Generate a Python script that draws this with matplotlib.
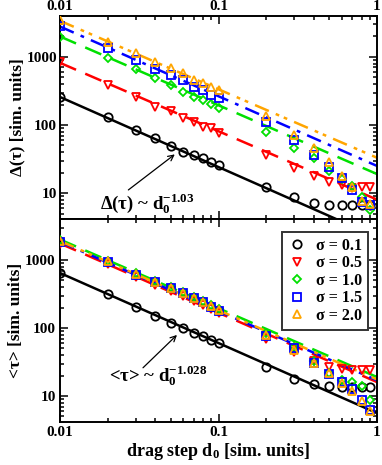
import matplotlib
matplotlib.use("Agg")
import matplotlib.pyplot as plt
from matplotlib.ticker import FixedLocator, FixedFormatter, LogLocator, NullFormatter

plt.rcParams["font.family"] = ["Liberation Serif", "DejaVu Serif"]
plt.rcParams["font.weight"] = "bold"
plt.rcParams["axes.labelweight"] = "bold"
plt.rcParams["mathtext.fontset"] = "custom"
plt.rcParams["mathtext.rm"] = "Liberation Serif:bold"
plt.rcParams["mathtext.it"] = "Liberation Serif:bold"
plt.rcParams["mathtext.bf"] = "Liberation Serif:bold"

# drag steps
d0 = [0.01, 0.02, 0.03, 0.04, 0.05, 0.06, 0.07, 0.08, 0.09, 0.1,
      0.2, 0.3, 0.4, 0.5, 0.6, 0.7, 0.8, 0.9]

sigmas = ["0.1", "0.5", "1.0", "1.5", "2.0"]

# upper panel: Delta(tau)
delta_s01 = [258, 131, 84, 64, 49, 40, 36, 33, 29, 26, 12.2, 8.7, 7.1, 6.6, 6.6, 6.6, 6.6, 6.6]
delta_s05 = [830, 388, 258, 184, 158, 127, 111, 94, 90, 76, 36, 23, 17.8, 14.5, 13, 11.8, 12.2, 12.2]
delta_s10 = [1960, 967, 666, 490, 388, 305, 258, 233, 203, 178, 79, 46, 33, 21, 16, 12.6, 8.8, 5.6]
delta_s15 = [2850, 1360, 903, 666, 544, 458, 362, 327, 276, 250, 110, 60, 36, 24, 16.6, 11, 7.4, 6.6]
delta_s20 = [3500, 1660, 1140, 845, 690, 580, 458, 414, 362, 327, 136, 71, 46, 29, 18, 12.2, 7.6, 7.0]

# lower panel: <tau>
tau_s01 = [644, 316, 204, 150, 120, 101, 84, 76, 67, 60, 27, 18, 15, 14.2, 13.5, 13.5, 13.5, 13.5]
tau_s05 = [1700, 860, 560, 430, 350, 295, 250, 218, 188, 168, 70, 45, 33, 27, 25, 24, 24, 24]
tau_s10 = [1960, 960, 640, 490, 400, 340, 285, 250, 215, 192, 84, 53, 33, 22, 17, 16, 14, 8.7]
tau_s15 = [1840, 935, 600, 470, 385, 325, 272, 238, 202, 180, 76, 50, 31, 21, 16, 12.5, 8.8, 6.2]
tau_s20 = [1900, 950, 620, 480, 390, 330, 280, 245, 208, 185, 78, 48, 31, 21.5, 15.5, 12, 8.5, 6.0]

# power-law fit lines (end points at d0 = 0.01 and 1)
fit_x = [0.01, 1.0]
fit_delta = {"0.1": [258, 2.25], "0.5": [820, 8.0], "1.0": [2000, 19],
             "1.5": [2800, 25], "2.0": [3400, 33]}
fit_tau = {"0.1": [644, 5.6], "0.5": [1750, 16], "1.0": [2000, 19],
           "1.5": [1850, 17], "2.0": [1900, 17.5]}

colors = ["black", "#ff0000", "#00e000", "#0000ff", "#ffa500"]
markers = ["o", "v", "D", "s", "^"]
msizes = [6, 6, 4.3, 5.5, 6]
dashes = [(None, None), (7, 4), (7, 4), (6, 3, 1.5, 3), (6, 3, 1.5, 2, 1.5, 3)]

fig = plt.figure(figsize=(3.82, 4.65), dpi=100)
ax1 = fig.add_axes([0.157, 0.529, 0.830, 0.4366])
ax2 = fig.add_axes([0.157, 0.0925, 0.830, 0.4365])


def draw(ax, series, fits):
    for i, s in enumerate(sigmas):
        ax.plot(d0, series[i], linestyle="none", marker=markers[i], ms=msizes[i],
                mfc="none", mec=colors[i], mew=1.3, label="\u03c3 = " + s, zorder=3)
        ln, = ax.plot(fit_x, fits[s], color=colors[i], lw=1.8, zorder=2)
        if dashes[i][0] is not None:
            ln.set_dashes(dashes[i])
    ax.set_xscale("log")
    ax.set_yscale("log")
    ax.set_xlim(0.01, 1)
    ax.set_ylim(4.15, 4000)
    ax.xaxis.set_major_locator(FixedLocator([0.01, 0.1, 1]))
    ax.xaxis.set_major_formatter(FixedFormatter(["0.01", "0.1", "1"]))
    ax.xaxis.set_minor_locator(LogLocator(base=10, subs=range(2, 10)))
    ax.xaxis.set_minor_formatter(NullFormatter())
    ax.yaxis.set_major_locator(FixedLocator([10, 100, 1000]))
    ax.yaxis.set_major_formatter(FixedFormatter(["10", "100", "1000"]))
    ax.yaxis.set_minor_locator(LogLocator(base=10, subs=range(2, 10)))
    ax.yaxis.set_minor_formatter(NullFormatter())
    ax.tick_params(which="both", direction="in", top=True, bottom=True,
                   left=True, right=True, width=1.1, labelsize=11)
    ax.tick_params(which="major", length=6)
    ax.tick_params(which="minor", length=3)
    for lab in ax.get_xticklabels() + ax.get_yticklabels():
        lab.set_fontweight("bold")
    for sp in ax.spines.values():
        sp.set_linewidth(1.4)


draw(ax1, [delta_s01, delta_s05, delta_s10, delta_s15, delta_s20], fit_delta)
draw(ax2, [tau_s01, tau_s05, tau_s10, tau_s15, tau_s20], fit_tau)

ax1.tick_params(labeltop=True, labelbottom=False, pad=2)
ax2.tick_params(pad=3)
for lab in ax1.get_xticklabels(which="both"):
    lab.set_fontweight("bold")

ax1.set_ylabel("\u0394(\u03c4) [sim. units]", fontsize=12.5, fontweight="bold", labelpad=1)
ax2.set_ylabel("<\u03c4> [sim. units]", fontsize=12.5, fontweight="bold", labelpad=1)
ax2.set_xlabel(r"drag step $\mathrm{d_0}$ [sim. units]", fontsize=13, fontweight="bold", labelpad=1)

arrow = dict(arrowstyle="->", color="black", lw=0.9, shrinkA=0, shrinkB=0)
ax1.annotate("", xy=(0.053, 37), xytext=(0.027, 11.1), arrowprops=arrow)
ax1.text(0.0178, 7.0, r"$\Delta(\tau)$ ~ $\mathrm{d}_0^{-1.03}$", fontsize=13.5,
         ha="left", va="center")
ax2.annotate("", xy=(0.0547, 79), xytext=(0.0334, 26), arrowprops=arrow)
ax2.text(0.0205, 20, r"<$\tau$> ~ $\mathrm{d}_0^{-1.028}$", fontsize=13.5,
         ha="left", va="center")

leg = ax2.legend(loc="upper right", bbox_to_anchor=(0.9716, 0.936), borderaxespad=0,
                 prop={"size": 11.5, "weight": "bold"}, frameon=True, fancybox=False,
                 handlelength=1.2, handletextpad=0.6, labelspacing=0.1, borderpad=0.35)
leg.get_frame().set_edgecolor("black")
leg.get_frame().set_linewidth(1.4)

fig.savefig("out.png", dpi=100)
